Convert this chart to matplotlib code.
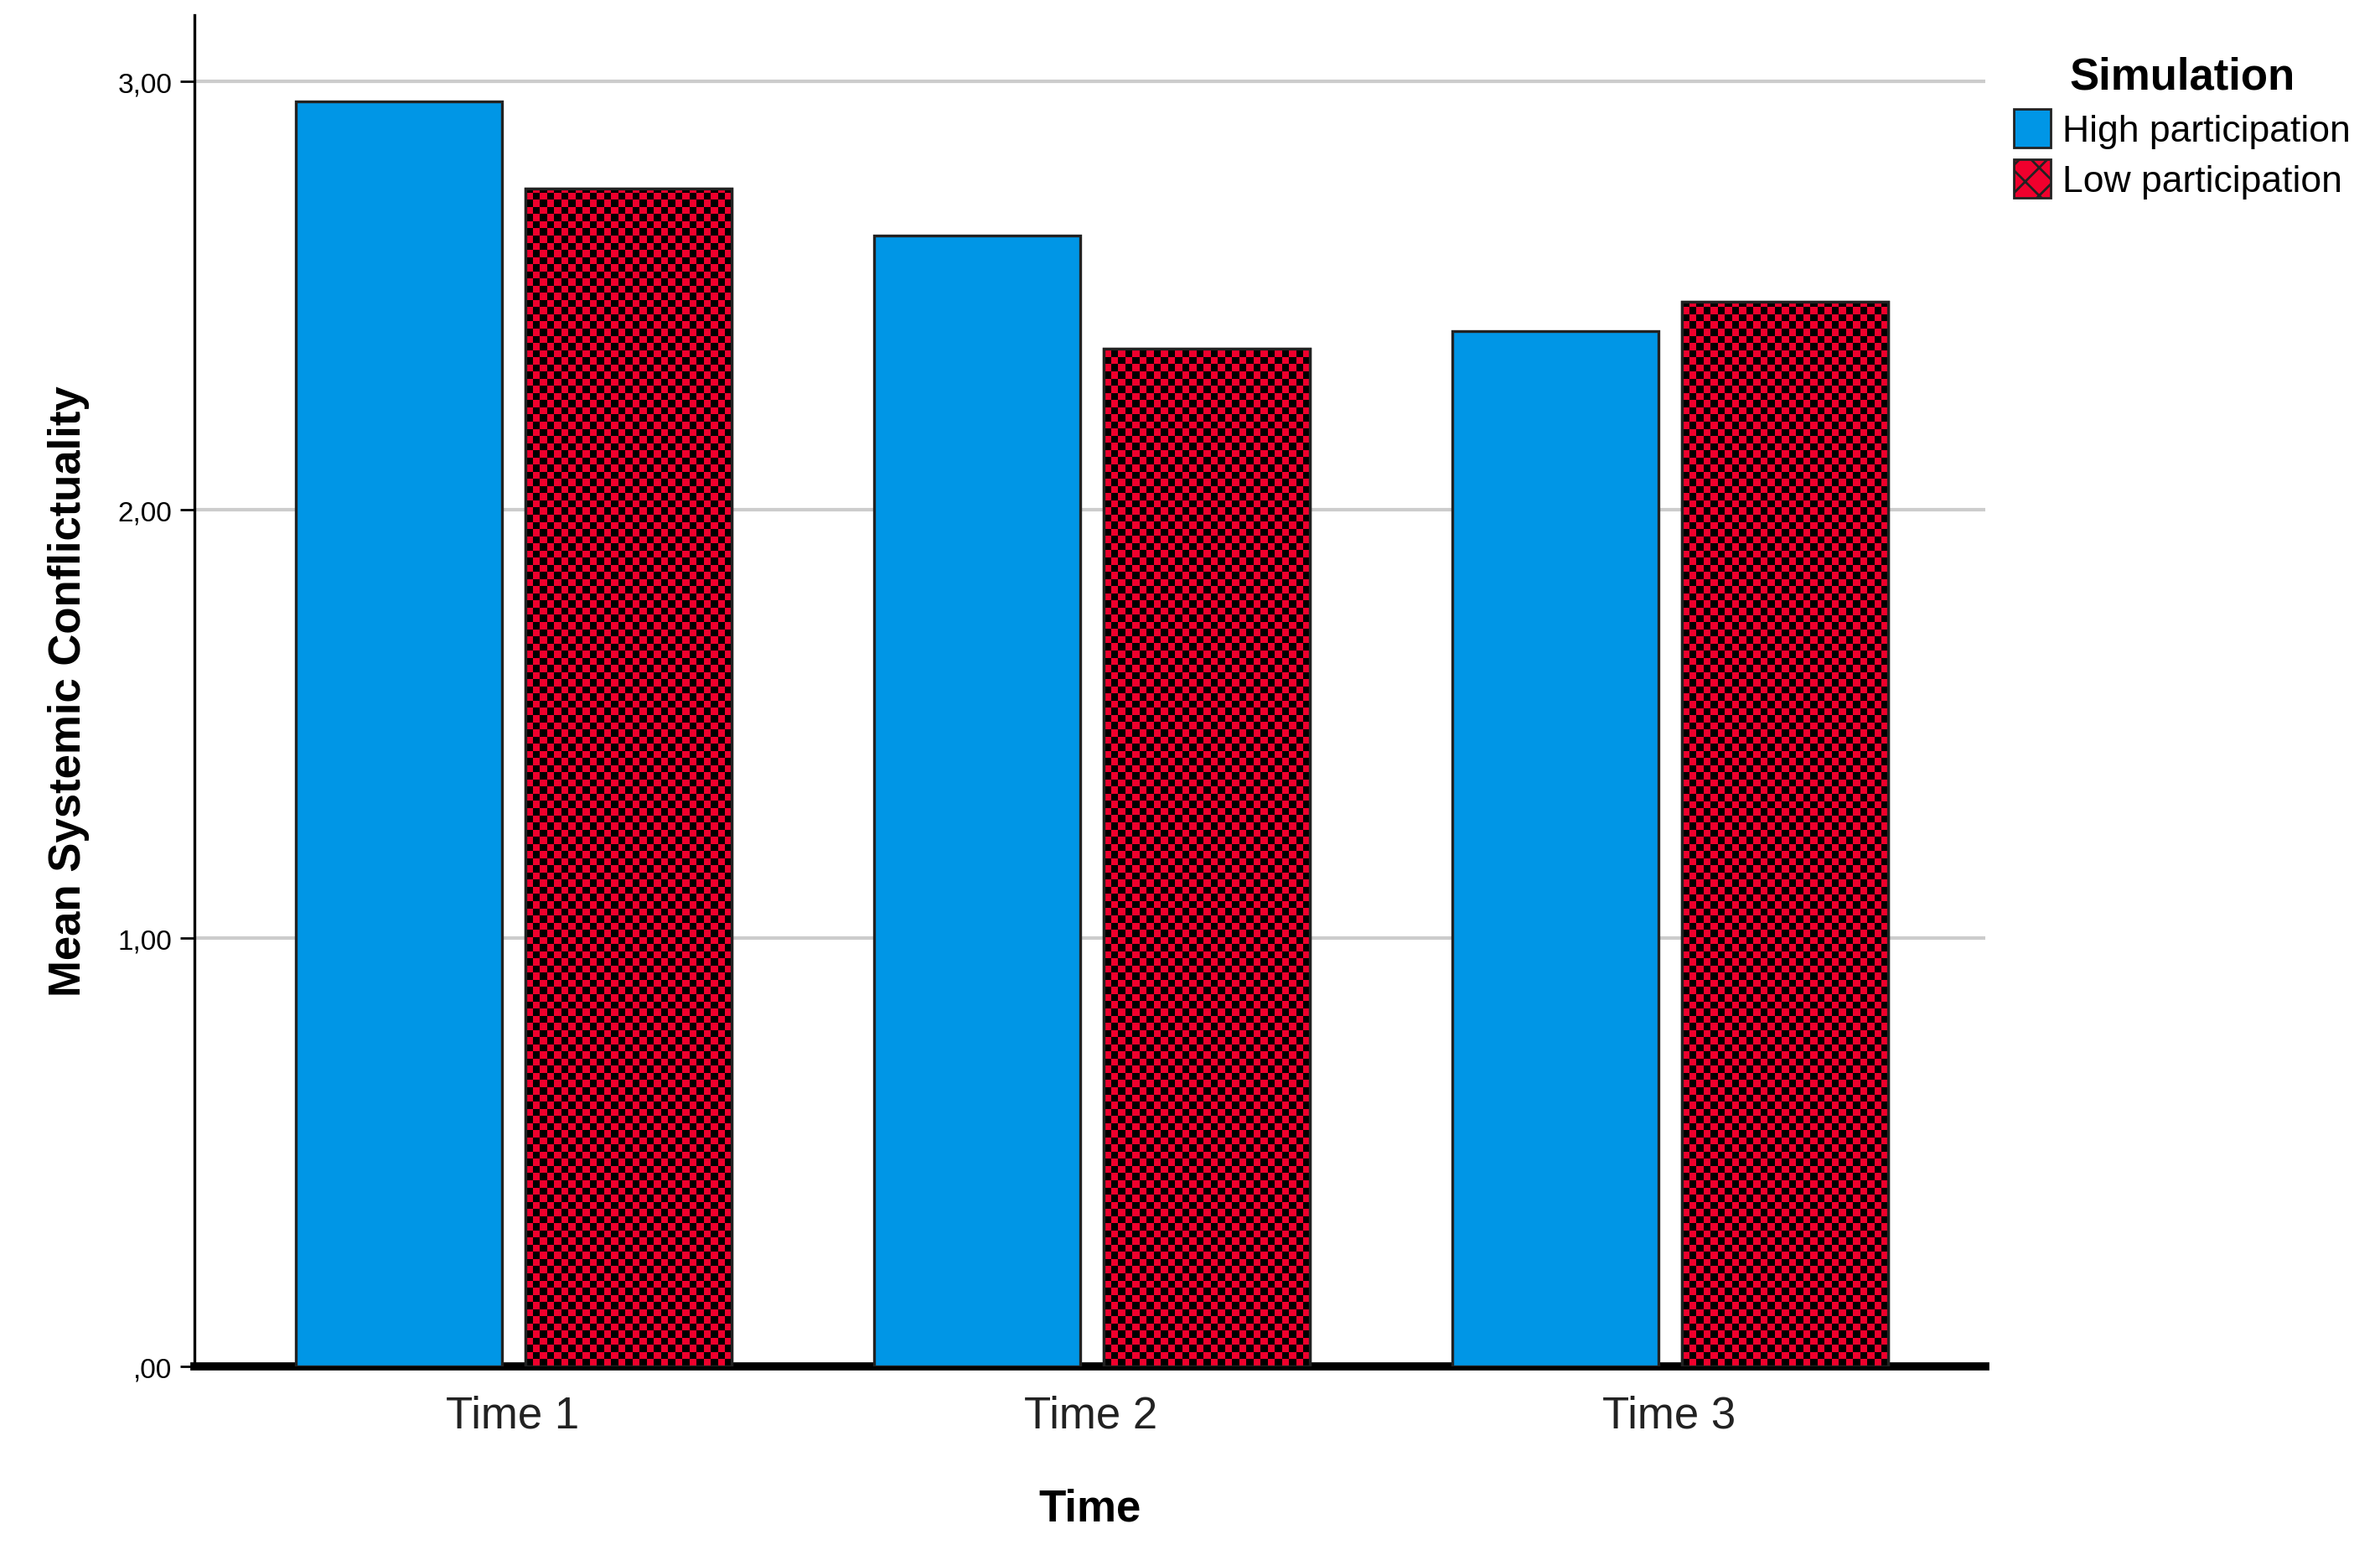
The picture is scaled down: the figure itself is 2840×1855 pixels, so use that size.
import matplotlib
matplotlib.use("Agg")
import matplotlib.pyplot as plt
import numpy as np
from matplotlib.patches import Patch

categories = ["Time 1", "Time 2", "Time 3"]
high = [2.954, 2.64, 2.418]
low = [2.75, 2.376, 2.486]
yticks = [0, 1, 2, 3]
ytick_labels = [",00", "1,00", "2,00", "3,00"]

plt.rcParams['font.family'] = ['Liberation Sans', 'DejaVu Sans']
fig = plt.figure(figsize=(14.2, 9.28), dpi=200)
ax = fig.add_axes([0.0816, 0.121, 0.7525, 0.869])
x = np.arange(len(categories))
w = 0.357
blue = "#0096E6"
red = "#F0002D"
ax.bar(x - 0.197, high, w, color=blue, edgecolor="#222222", linewidth=1.2, zorder=3)
bars = ax.bar(x + 0.2, low, w, color=red, edgecolor="#222222", linewidth=1.2, zorder=3)

from matplotlib.colors import ListedColormap
cmap = ListedColormap(["black", red])
sx = w / 29
sy = 0.0167
for b in bars:
    x0, y0, bw, bh = b.get_x(), b.get_y(), b.get_width(), b.get_height()
    nx = int(np.ceil(bw / sx)); ny = int(np.ceil(bh / sy))
    img = (np.add.outer(np.arange(ny), np.arange(nx)) % 2)
    im = ax.imshow(img, cmap=cmap, extent=(x0, x0 + nx * sx, y0 + ny * sy, y0), origin="upper",
                   interpolation="nearest", aspect="auto", zorder=3.5)
    im.set_clip_path(b)
    ax.bar(x0 + bw / 2, bh, bw, color="none", edgecolor="#222222", linewidth=1.2, zorder=4)

ax.set_xlim(-0.551, 2.546)
ax.set_ylim(0, 3.156)
ax.set_yticks(yticks)
ax.set_yticklabels(ytick_labels, fontsize=12)
ax.set_xticks(x)
ax.set_xticklabels(categories, fontsize=19, color="#222222")
ax.grid(axis="y", color="#cccccc", linewidth=1.5, zorder=0)
for s in ["top", "right"]:
    ax.spines[s].set_visible(False)
ax.spines["bottom"].set_linewidth(3.5)
ax.spines["left"].set_linewidth(1.2)
ax.tick_params(axis="x", length=0, pad=12)
ax.tick_params(axis="y", length=6, width=1)
ax.set_xlabel("Time", fontsize=19, fontweight="bold", labelpad=22)
ax.set_ylabel("Mean Systemic Conflictuality", fontsize=19, fontweight="bold", labelpad=12)

handles = [Patch(facecolor=blue, edgecolor="#222222"), Patch(facecolor=red, edgecolor="#222222", hatch="xx")]
leg = fig.legend(handles, ["High participation", "Low participation"], title="Simulation",
                 loc="upper left", bbox_to_anchor=(0.832, 0.985), frameon=False, fontsize=16,
                 title_fontproperties={"weight": "bold", "size": 19}, handlelength=1.0,
                 handleheight=1.2, handletextpad=0.3, labelspacing=0.3)
fig.savefig("out.png", dpi=200)
